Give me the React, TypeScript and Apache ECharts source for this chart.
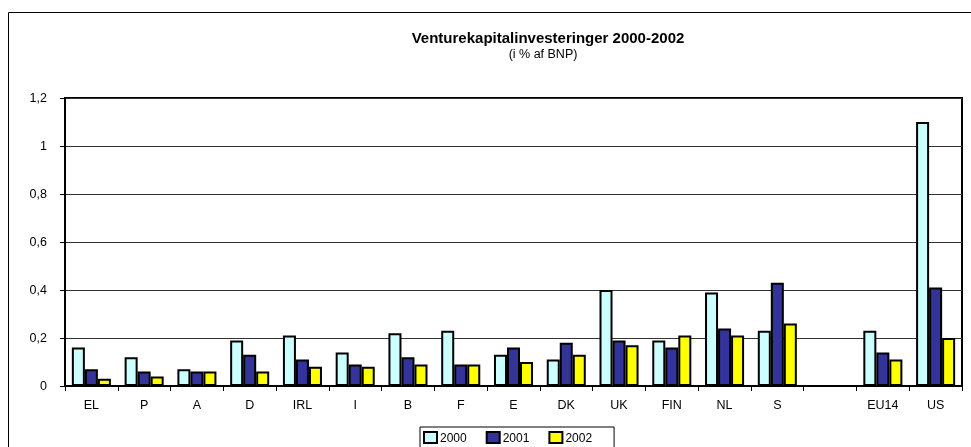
import React, { useEffect, useRef } from "react";
import * as echarts from "echarts";

const categories = ["EL", "P", "A", "D", "IRL", "I", "B", "F", "E", "DK", "UK", "FIN", "NL", "S", "", "EU14", "US"];
const values2000 = [0.16, 0.12, 0.07, 0.19, 0.21, 0.14, 0.22, 0.23, 0.13, 0.11, 0.40, 0.19, 0.39, 0.23, null, 0.23, 1.10];
const values2001 = [0.07, 0.06, 0.06, 0.13, 0.11, 0.09, 0.12, 0.09, 0.16, 0.18, 0.19, 0.16, 0.24, 0.43, null, 0.14, 0.41];
const values2002 = [0.03, 0.04, 0.06, 0.06, 0.08, 0.08, 0.09, 0.09, 0.10, 0.13, 0.17, 0.21, 0.21, 0.26, null, 0.11, 0.20];
const seriesNames = ["2000", "2001", "2002"];
const colors = ["#CCFFFF", "#333399", "#FFFF00"];

const FONT = "Arial, 'Liberation Sans', Helvetica, sans-serif";

export default function App() {
  const ref = useRef<HTMLDivElement>(null);
  useEffect(() => {
    if (!ref.current) return;
    const chart = echarts.init(ref.current, null, { renderer: "svg" });
    const data = [values2000, values2001, values2002];
    chart.setOption({
      animation: false,
      textStyle: { fontFamily: FONT },
      graphic: [
        {
          type: "line",
          shape: { x1: 8.5, y1: 12.5, x2: 971, y2: 12.5 },
          style: { stroke: "#000", lineWidth: 1 },
          silent: true,
        },
        {
          type: "line",
          shape: { x1: 8.5, y1: 12.5, x2: 8.5, y2: 447 },
          style: { stroke: "#000", lineWidth: 1 },
          silent: true,
        },
        {
          type: "text",
          x: 548,
          y: 37,
          style: {
            text: "Venturekapitalinvesteringer 2000-2002",
            fontFamily: FONT,
            fontWeight: "bold",
            fontSize: 15,
            fill: "#000",
            align: "center",
            verticalAlign: "middle",
          },
        },
        {
          type: "text",
          x: 543,
          y: 54,
          style: {
            text: "(i % af BNP)",
            fontFamily: FONT,
            fontSize: 12.5,
            fill: "#000",
            align: "center",
            verticalAlign: "middle",
          },
        },
      ],
      legend: {
        left: 420,
        top: 427,
        padding: [4, 22, 6, 3],
        itemGap: 19,
        itemWidth: 13,
        itemHeight: 11,
        icon: "rect",
        borderColor: "#000",
        borderWidth: 1,
        backgroundColor: "#fff",
        itemStyle: { borderColor: "#000", borderWidth: 2 },
        textStyle: { fontFamily: FONT, fontSize: 12, color: "#000", padding: [0, 0, 0, -2] },
        data: seriesNames,
      },
      grid: {
        left: 65,
        right: 9,
        top: 98,
        bottom: 61,
        show: true,
        borderColor: "#000",
        borderWidth: 2,
      },
      xAxis: {
        type: "category",
        data: categories,
        axisLine: { show: true, lineStyle: { color: "#000", width: 2 } },
        axisTick: { show: true, length: 5, lineStyle: { color: "#000", width: 1 } },
        axisLabel: { color: "#000", fontSize: 12.5, fontFamily: FONT, margin: 12, interval: 0 },
      },
      yAxis: {
        type: "value",
        min: 0,
        max: 1.2,
        interval: 0.2,
        axisLine: { show: true, lineStyle: { color: "#000", width: 2 } },
        axisTick: { show: true, length: 5, lineStyle: { color: "#000", width: 1 } },
        axisLabel: {
          color: "#000",
          fontSize: 12.5,
          fontFamily: FONT,
          margin: 18,
          formatter: (v: number) => String(Math.round(v * 10) / 10).replace(".", ","),
        },
        splitLine: { show: true, lineStyle: { color: "#333", width: 1 } },
      },
      series: seriesNames.map((name, i) => ({
        name,
        type: "bar",
        data: data[i],
        barGap: "0%",
        barCategoryGap: "26%",
        itemStyle: { color: colors[i], borderColor: "#000", borderWidth: 2 },
      })),
    });
    return () => chart.dispose();
  }, []);
  return <div ref={ref} style={{ position: "fixed", left: 0, top: 0, width: 971, height: 447 }} />;
}
